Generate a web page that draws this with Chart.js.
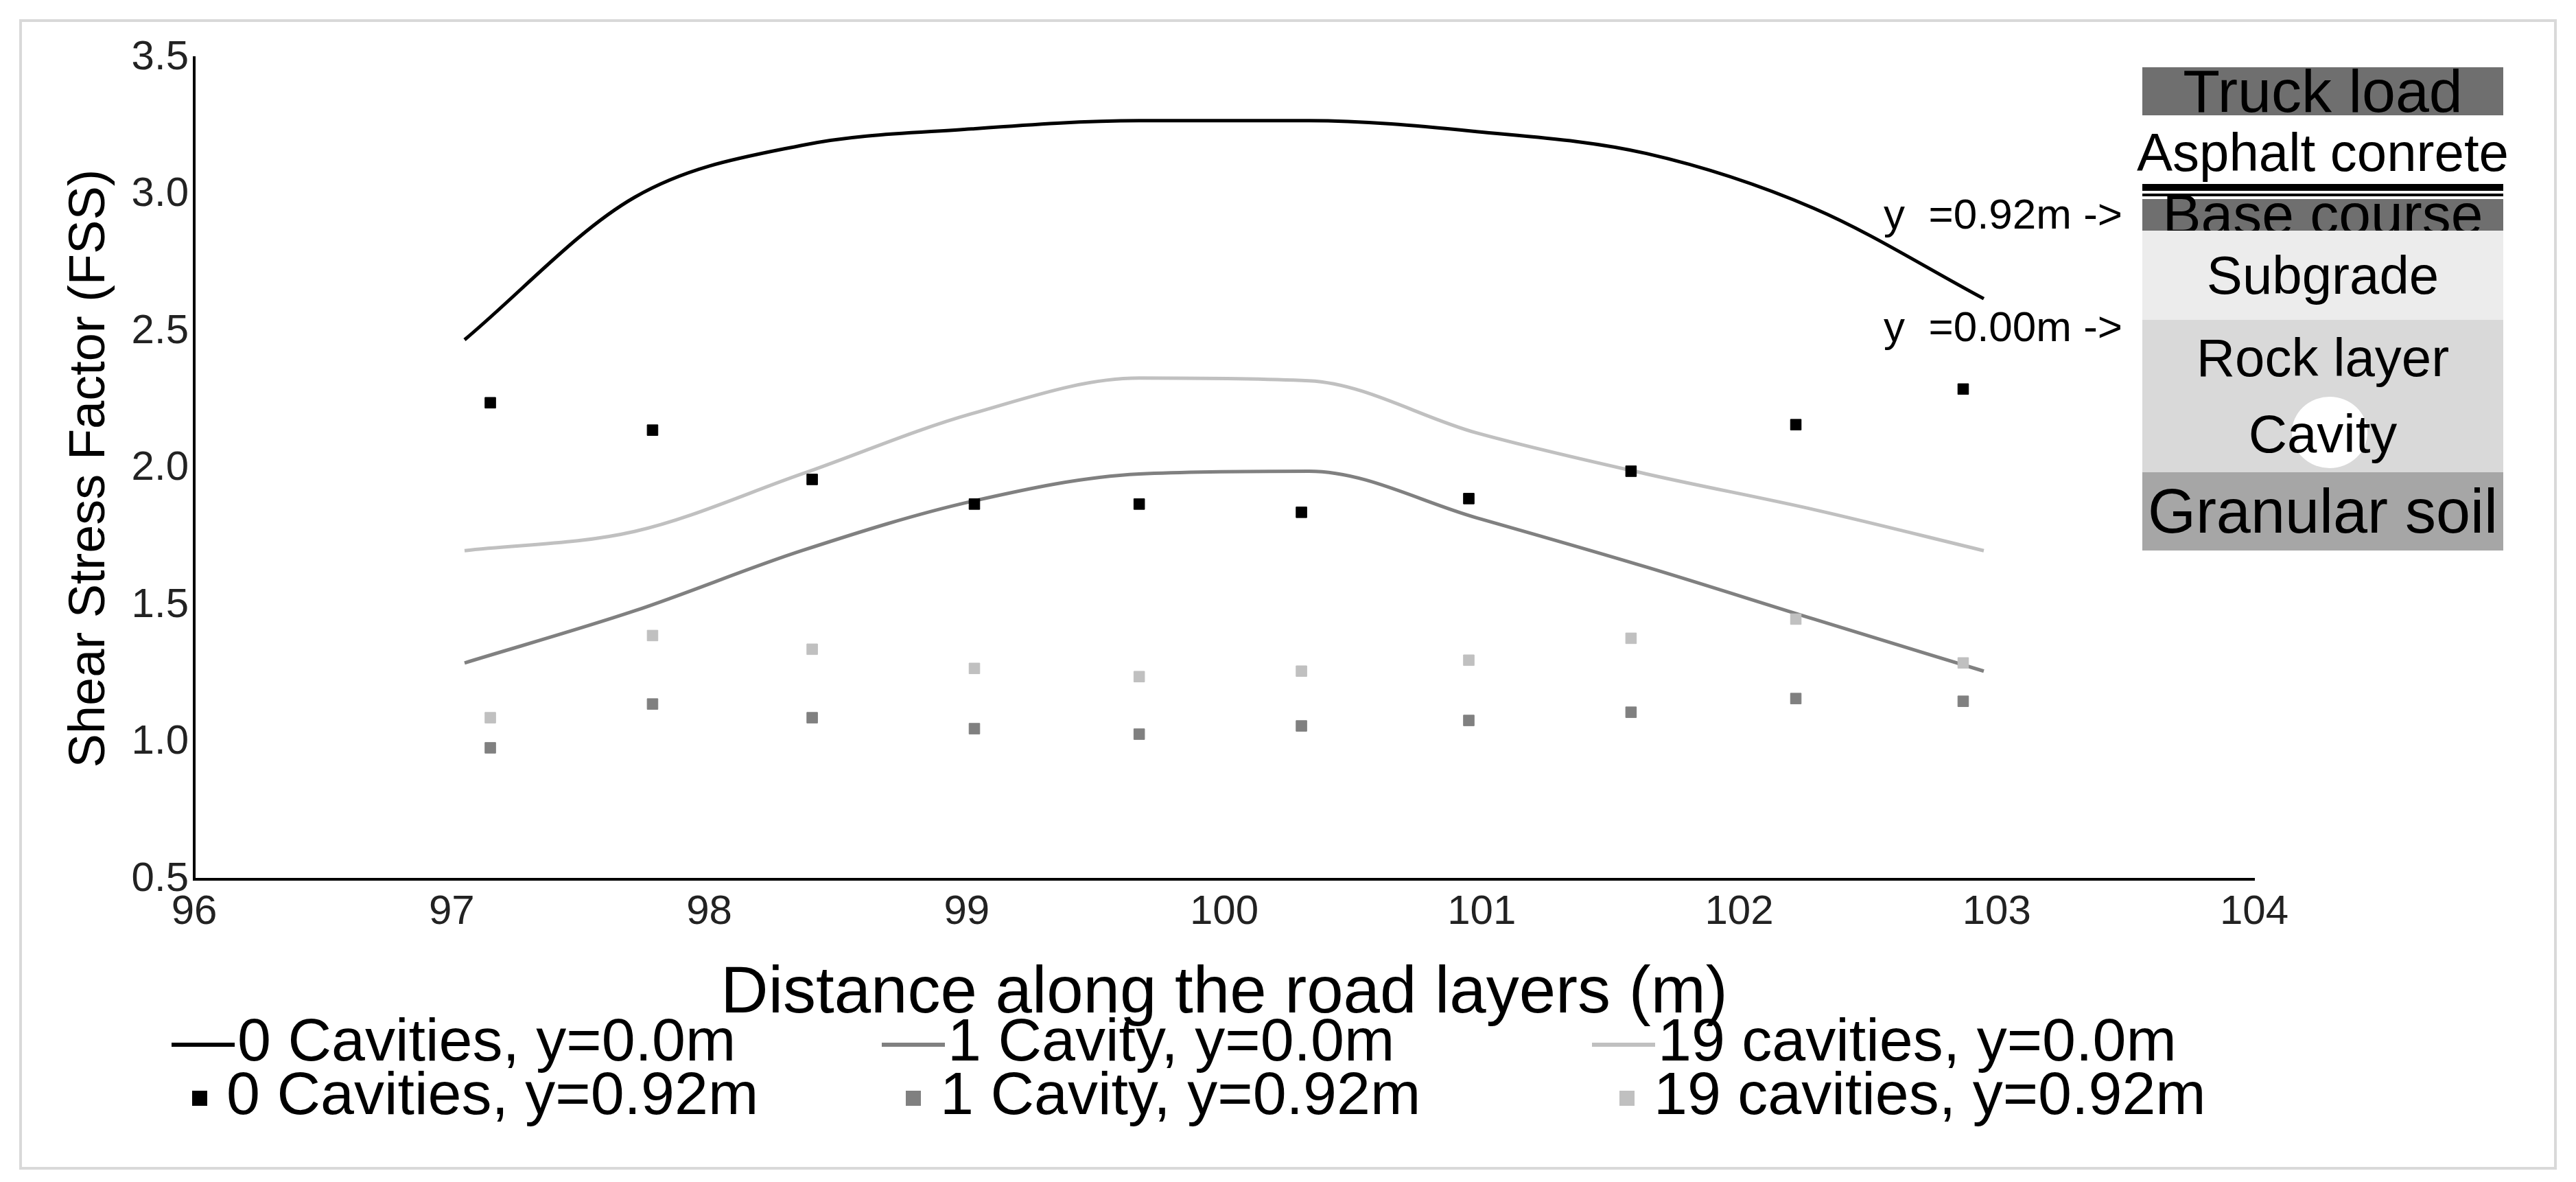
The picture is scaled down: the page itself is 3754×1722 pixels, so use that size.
<!DOCTYPE html>
<html>
<head>
<meta charset="utf-8">
<script src="https://cdn.jsdelivr.net/npm/chart.js@4"></script>
<style>
  body { margin: 0; width: 3754px; height: 1722px; background: #fff; font-family: "Liberation Sans", Arial, sans-serif; position: relative; overflow: hidden; }
  #frame { position: absolute; left: 28px; top: 28px; width: 3690px; height: 1668px; border: 4px solid #d9d9d9; }
  #c { position: absolute; left: 0; top: 0; }
  .legend { position: absolute; font-size: 88px; line-height: 90px; color: #000; white-space: nowrap; }
  .legend span.ln { display: inline-block; width: 92px; height: 6px; vertical-align: middle; margin-right: 4px; }
  .legend span.sq { display: inline-block; width: 22px; height: 22px; vertical-align: middle; margin: 0 28px 0 40px; }
  .layer { position: absolute; left: 3122px; width: 526px; text-align: center; color: #000; white-space: nowrap; }
  .lbl { position: absolute; font-size: 62px; color: #000; white-space: nowrap; }
</style>
</head>
<body>
<div id="frame"></div>
<canvas id="c" width="3754" height="1722"></canvas>

<div class="layer" style="top:98px;height:70px;background:#6f6f6f;font-size:88px;line-height:70px;">Truck load</div>
<div class="layer" style="top:190px;height:64px;font-size:78px;line-height:64px;width:600px;left:3085px;">Asphalt conrete</div>
<div class="layer" style="top:268px;height:10px;background:#000;"></div>
<div class="layer" style="top:282px;height:4px;background:#000;"></div>
<div class="layer" style="top:290px;height:46px;background:#6f6f6f;"></div>
<div class="layer" style="top:282px;height:60px;font-size:84px;line-height:60px;">Base course</div>
<div class="layer" style="top:336px;height:130px;background:#ececec;font-size:78px;line-height:130px;">Subgrade</div>
<div class="layer" style="top:466px;height:110px;background:#d9d9d9;font-size:78px;line-height:110px;">Rock layer</div>
<div class="layer" style="top:576px;height:112px;background:#d9d9d9;"></div>
<div style="position:absolute;left:3340px;top:578px;width:110px;height:104px;border-radius:50%;background:#fff;"></div>
<div class="layer" style="top:576px;height:112px;font-size:78px;line-height:112px;">Cavity</div>
<div class="layer" style="top:688px;height:114px;background:#a6a6a6;font-size:90px;line-height:114px;">Granular soil</div>
<div class="lbl" style="left:2745px;top:276px;">y &nbsp;=0.92m -&gt;</div>
<div class="lbl" style="left:2745px;top:440px;">y &nbsp;=0.00m -&gt;</div>

<div class="legend" style="left:250px;top:1470px;"><span class="ln" style="background:#000"></span>0 Cavities, y=0.0m</div>
<div class="legend" style="left:1285px;top:1470px;"><span class="ln" style="background:#808080"></span>1 Cavity, y=0.0m</div>
<div class="legend" style="left:2320px;top:1470px;"><span class="ln" style="background:#c0c0c0"></span>19 cavities, y=0.0m</div>
<div class="legend" style="left:240px;top:1548px;"><span class="sq" style="background:#000"></span>0 Cavities, y=0.92m</div>
<div class="legend" style="left:1280px;top:1548px;"><span class="sq" style="background:#808080"></span>1 Cavity, y=0.92m</div>
<div class="legend" style="left:2320px;top:1548px;"><span class="sq" style="background:#c0c0c0"></span>19 cavities, y=0.92m</div>

<script>
const lineX = [97.05, 97.71, 98.36, 99.02, 99.67, 100.33, 100.98, 101.64, 102.29, 102.95];
const cav0Line = [2.47, 2.99, 3.18, 3.24, 3.27, 3.27, 3.23, 3.15, 2.95, 2.62];
const cav1Line = [1.29, 1.48, 1.70, 1.88, 1.98, 1.99, 1.82, 1.64, 1.45, 1.26];
const cav19Line = [1.70, 1.77, 1.98, 2.20, 2.33, 2.32, 2.13, 1.98, 1.85, 1.70];

const pointX = [97.15, 97.78, 98.4, 99.03, 99.67, 100.3, 100.95, 101.58, 102.22, 102.87];
const cav0Pts = [2.24, 2.14, 1.96, 1.87, 1.87, 1.84, 1.89, 1.99, 2.16, 2.29];
const cav1Pts = [0.98, 1.14, 1.09, 1.05, 1.03, 1.06, 1.08, 1.11, 1.16, 1.15];
const cav19Pts = [1.09, 1.39, 1.34, 1.27, 1.24, 1.26, 1.30, 1.38, 1.45, 1.29];

const xy = (xs, ys) => xs.map((x, i) => ({ x: x, y: ys[i] }));

function lineSet(label, ys, color) {
  return { type: "line", label, data: xy(lineX, ys), borderColor: color, borderWidth: 5,
    pointRadius: 0, fill: false, cubicInterpolationMode: "monotone" };
}
function pointSet(label, ys, color) {
  return { type: "scatter", label, data: xy(pointX, ys), backgroundColor: color, borderColor: color,
    pointStyle: "rect", pointRadius: 11, showLine: false };
}

const tickFont = { family: "Liberation Sans", size: 60 };
new Chart(document.getElementById("c"), {
  data: {
    datasets: [
      pointSet("0 Cavities, y=0.92m", cav0Pts, "#000"),
      pointSet("1 Cavity, y=0.92m", cav1Pts, "#808080"),
      pointSet("19 cavities, y=0.92m", cav19Pts, "#c0c0c0"),
      lineSet("0 Cavities, y=0.0m", cav0Line, "#000"),
      lineSet("1 Cavity, y=0.0m", cav1Line, "#808080"),
      lineSet("19 cavities, y=0.0m", cav19Line, "#c0c0c0"),
    ],
  },
  options: {
    responsive: false,
    animation: false,
    layout: { padding: { left: 83, right: 469, top: 84, bottom: 221 } },
    plugins: { legend: { display: false }, tooltip: { enabled: false } },
    scales: {
      x: {
        type: "linear", min: 96, max: 104,
        ticks: { stepSize: 1, color: "#222", font: { ...tickFont, lineHeight: 1 }, padding: 18 },
        grid: { display: false, drawTicks: false },
        border: { color: "#000", width: 4 },
        title: { display: true, text: "Distance along the road layers (m)", color: "#000",
          font: { family: "Liberation Sans", size: 96, lineHeight: 1 }, padding: { top: 6 } },
        afterFit: (s) => { s.height = 220; },
      },
      y: {
        min: 0.5, max: 3.5,
        ticks: { stepSize: 0.5, color: "#222", font: tickFont, padding: 8, callback: (v) => v.toFixed(1) },
        grid: { display: false, drawTicks: false },
        border: { color: "#000", width: 4 },
        title: { display: true, text: "Shear Stress Factor (FSS)", color: "#000",
          font: { family: "Liberation Sans", size: 74 }, padding: { bottom: 0 } },
        afterFit: (s) => { s.width = 200; },
      },
    },
  },
});
</script>
</body>
</html>
